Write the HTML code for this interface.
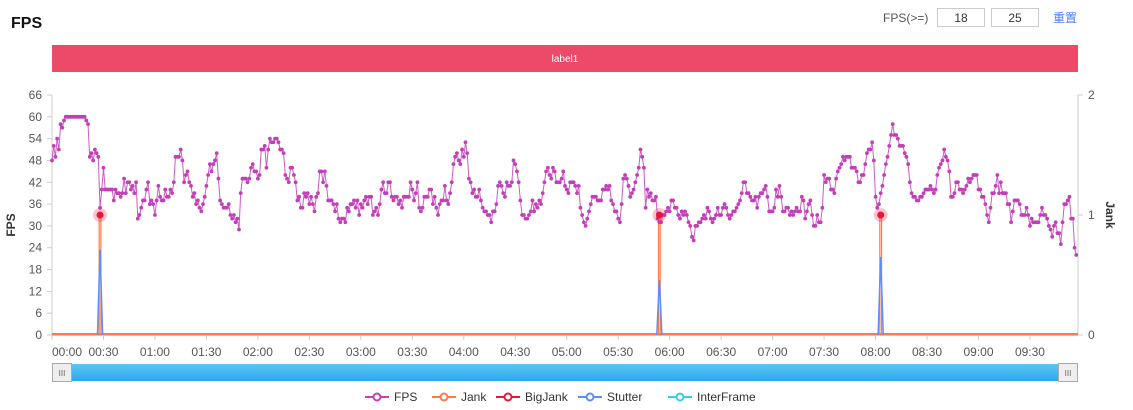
<!DOCTYPE html>
<html><head><meta charset="utf-8">
<style>
html,body{margin:0;padding:0;background:#fff;width:1133px;height:410px;overflow:hidden;font-family:"Liberation Sans","Noto Sans CJK SC",sans-serif}
svg{position:absolute;left:0;top:0}
</style></head>
<body>
<svg id="chart" width="1133" height="410">
  <defs><linearGradient id="sg" x1="0" y1="0" x2="0" y2="1"><stop offset="0" stop-color="#5cc6f5"/><stop offset="1" stop-color="#2aa9e8"/></linearGradient></defs>
  <text x="11" y="28" font-size="16" font-weight="bold" fill="#111">FPS</text>
  <text x="883" y="22" font-size="12" fill="#555">FPS(&gt;=)</text>
  <g><rect x="937.5" y="8.5" width="47" height="18" fill="#fff" stroke="#ccc"/><text x="961" y="22" font-size="12" text-anchor="middle" fill="#333">18</text></g>
  <g><rect x="991.5" y="8.5" width="47" height="18" fill="#fff" stroke="#ccc"/><text x="1015" y="22" font-size="12" text-anchor="middle" fill="#333">25</text></g>
  <text x="1053" y="22" font-size="12" fill="#4a7cf0">重置</text>
  <rect x="52" y="45" width="1026" height="27" fill="#ec4a68"/>
  <text x="565" y="62" font-size="10" fill="#fff" text-anchor="middle">label1</text>
  <g id="axes"></g>
  <g id="series"></g>
  <g>
    <rect x="52" y="364" width="1026" height="17" rx="2" fill="url(#sg)"/>
  </g>
  <g><rect x="52.5" y="363.5" width="19" height="18" fill="#eee" stroke="#aaa"/><text x="62" y="376" font-size="8" text-anchor="middle" fill="#666">III</text></g>
  <g><rect x="1058.5" y="363.5" width="19" height="18" fill="#eee" stroke="#aaa"/><text x="1068" y="376" font-size="8" text-anchor="middle" fill="#666">III</text></g>
  <g id="legend"></g>
</svg>
<script>
const fpsValues=[48,52,49,54,51,58,57,59,60,60,60,60,60,60,60,60,60,60,60,60,59,58,49,50,48,51,50,49,35,40,46,40,40,40,40,40,37,40,39,39,38,39,43,39,42,42,40,41,39,42,32,33,35,37,37,40,42,36,37,36,33,37,41,38,37,37,40,38,38,40,39,42,49,49,49,51,48,42,44,45,42,41,38,39,36,37,35,34,36,38,41,44,47,45,47,48,50,43,37,36,35,35,35,36,33,32,33,31,32,29,39,43,43,43,42,43,46,47,45,45,43,44,51,51,52,46,51,54,53,53,54,54,53,51,51,50,44,43,42,46,46,44,42,37,38,35,35,39,38,39,36,38,36,34,38,39,45,45,42,45,41,37,37,37,36,34,36,32,31,32,32,31,35,34,36,36,37,35,37,33,36,35,37,38,36,38,38,
33,34,35,33,36,40,42,39,39,42,42,38,37,38,38,36,37,35,38,38,38,38,42,40,37,39,42,35,34,35,38,38,38,40,40,36,38,35,33,36,37,37,41,37,36,39,42,47,49,50,48,47,51,49,53,50,43,42,39,40,38,38,40,37,35,34,34,33,33,31,34,34,36,41,42,41,39,38,42,41,41,42,48,47,45,42,37,33,
33,32,32,33,34,37,34,36,35,37,36,39,42,45,46,44,43,46,45,42,42,42,43,45,41,40,39,42,42,42,41,39,41,35,33,31,30,32,34,36,38,38,38,37,37,37,40,40,41,40,41,37,36,34,34,32,31,36,43,44,43,41,38,39,40,42,44,46,51,49,46,35,40,38,39,37,37,38,32,31,31,33,33,34,35,34,37,37,35,35,33,32,34,33,34,33,31,30,27,26,30,30,31,31,32,33,32,35,34,32,31,32,33,35,33,33,35,36,35,33,32,33,34,34,35,36,37,39,42,42,39,39,38,37,37,38,35,38,39,39,40,41,38,34,34,34,35,
40,38,41,38,34,34,35,35,33,34,33,34,35,34,34,38,37,32,34,36,37,33,30,30,33,31,31,35,44,42,43,43,40,40,39,43,45,46,47,49,48,49,49,49,46,46,46,45,42,42,44,44,47,50,51,51,53,48,38,35,36,39,41,44,47,49,52,55,58,55,55,54,52,52,52,50,49,47,42,39,38,38,37,37,38,38,39,40,40,40,41,40,39,40,44,46,47,48,51,49,48,45,38,38,39,42,42,40,40,39,40,41,43,42,43,44,44,44,40,40,38,38,36,33,31,35,39,39,41,44,39,42,39,39,39,36,36,31,34,37,37,37,36,33,33,33,35,33,30,32,31,31,31,31,33,35,33,33,32,30,29,27,30,31,28,28,25,31,36,36,37,38,32,32,24,22];
const jankTimes=[28,354,483];
const jankValues=[1,1,1];
const stutterValues=[0.71,0.46,0.65];
const yTicks=[0,6,12,18,24,30,36,42,48,54,60,66];
const jankTicks=[0,1,2];
const xTickLabels=["00:00","00:30","01:00","01:30","02:00","02:30","03:00","03:30","04:00","04:30","05:00","05:30","06:00","06:30","07:00","07:30","08:00","08:30","09:00","09:30"];
const legendNames=["FPS","Jank","BigJank","Stutter","InterFrame"];
const legendColors=["#c23fb8","#ff7a45","#e8173a","#5b8ff9","#36cfe0"];

const NS="http://www.w3.org/2000/svg";
const X0=52,X1=1078,Y0=335,Y1=95,TMAX=598;
const x=t=>X0+(t/TMAX)*(X1-X0);
const y=v=>Y0-(v/66)*(Y0-Y1);
const yj=v=>Y0-(v/2)*(Y0-Y1);
function mk(tag,attrs,parent){const e=document.createElementNS(NS,tag);for(const k in attrs)e.setAttribute(k,attrs[k]);parent.appendChild(e);return e;}
const axes=document.getElementById('axes'),series=document.getElementById('series'),legend=document.getElementById('legend');

let l=mk('line',{x1:X0,y1:Y1,x2:X0,y2:Y0,stroke:'#ccc'},axes);


l=mk('line',{x1:X1,y1:Y1,x2:X1,y2:Y0,stroke:'#ccc'},axes);


l=mk('line',{x1:X0,y1:Y0+0.5,x2:X1,y2:Y0+0.5,stroke:'#ccc'},axes);


yTicks.forEach(v=>{
  mk('line',{x1:X0-5,y1:y(v),x2:X0,y2:y(v),stroke:'#ccc'},axes);
  const t=mk('text',{x:X0-10,y:y(v)+4,'font-size':12,'text-anchor':'end',fill:'#555'},axes);t.textContent=v;
  
  
});
jankTicks.forEach(v=>{
  mk('line',{x1:X1,y1:yj(v),x2:X1+5,y2:yj(v),stroke:'#ccc'},axes);
  const t=mk('text',{x:X1+10,y:yj(v)+4,'font-size':12,fill:'#555'},axes);t.textContent=v;
  
  
});
xTickLabels.forEach((s,i)=>{
  const xx=x(i*30);
  mk('line',{x1:xx,y1:Y0,x2:xx,y2:Y0+5,stroke:'#ccc'},axes);
  const t=mk('text',{x:i===0?xx+15:xx,y:356,'font-size':12,'text-anchor':'middle',fill:'#555'},axes);t.textContent=s;
  
  
});
let at=mk('text',{x:0,y:0,'font-size':12,'font-weight':'bold',fill:'#333','text-anchor':'middle',transform:'translate(15,225) rotate(-90)'},axes);at.textContent='FPS';


at=mk('text',{x:0,y:0,'font-size':12,'font-weight':'bold',fill:'#333','text-anchor':'middle',transform:'translate(1106,215) rotate(90)'},axes);at.textContent='Jank';



let b=mk('line',{x1:X0,y1:Y0-1,x2:X1,y2:Y0-1,stroke:'#ff7a45','stroke-width':2},series);


jankTimes.forEach((tt,i)=>{
  const j=mk('polyline',{points:`${x(tt-0.5)},${Y0} ${x(tt-0.5)},${yj(jankValues[i])} ${x(tt+0.5)},${yj(jankValues[i])} ${x(tt+0.5)},${Y0}`,fill:'none',stroke:legendColors[1],'stroke-width':1.2},series);
  
  
  const p=mk('polyline',{points:`${x(tt-1.5)},${Y0} ${x(tt)},${yj(stutterValues[i])} ${x(tt+1.5)},${Y0}`,fill:'none',stroke:legendColors[3],'stroke-width':1.5},series);
  
  
});
const pts=fpsValues.map((v,i)=>`${x(i).toFixed(1)},${y(v).toFixed(1)}`).join(' ');
const fl=mk('polyline',{points:pts,fill:'none',stroke:'#c23fb8','stroke-width':1,'stroke-opacity':0.85},series);


fpsValues.forEach((v,i)=>{
  if(x(i)>X1)return;
  const c=mk('circle',{cx:x(i),cy:y(v),r:1.9,fill:'#c23fb8'},series);
  
  
});
jankTimes.forEach((tt,i)=>{
  mk('circle',{cx:x(tt),cy:yj(jankValues[i]),r:7,fill:'#e8173a','fill-opacity':0.25},series);
  const c=mk('circle',{cx:x(tt),cy:yj(jankValues[i]),r:3.5,fill:'#e8173a'},series);
  
  
});
const lx=[365,432,496,578,668];
legendNames.forEach((n,i)=>{
  const g=mk('g',{},legend);
  
  
  mk('line',{x1:lx[i],y1:397,x2:lx[i]+24,y2:397,stroke:legendColors[i],'stroke-width':2},g);
  mk('circle',{cx:lx[i]+12,cy:397,r:3.5,fill:'#fff',stroke:legendColors[i],'stroke-width':2},g);
  const t=mk('text',{x:lx[i]+29,y:401,'font-size':12,fill:'#333'},g);t.textContent=n;
});
</script>
</body></html>
